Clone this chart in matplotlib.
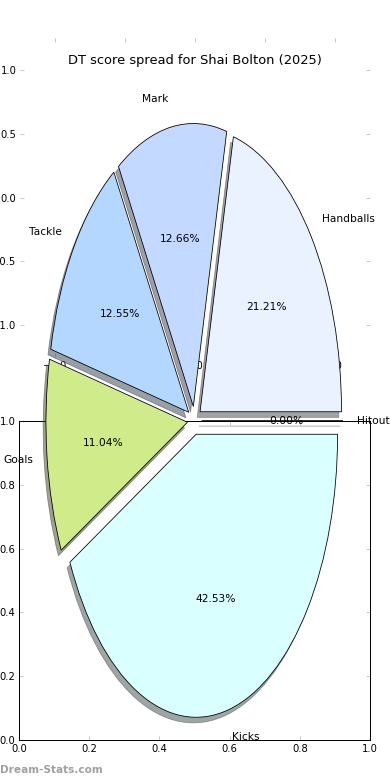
import matplotlib
matplotlib.use("Agg")
import matplotlib.pyplot as plt
import matplotlib.patches as mpatches
import matplotlib.transforms as mtransforms
import matplotlib.colors as mcolors
import numpy as np

# data (share of DT score, %)
labels = ['Hitout', 'Handballs', 'Mark', 'Tackle', 'Goals', 'Kicks']
shares = [0.0, 21.21, 12.66, 12.55, 11.04, 42.53]
explode = [0.05, 0.05, 0.05, 0.05, 0.05, 0.05]
colors = ['#e0e0e0', '#eaf1ff', '#c4d9ff', '#b3d7ff', '#d0eb8a', '#daffff']

ticks_top = [-1.0, -0.5, 0.0, 0.5, 1.0]
ticks_bot = [0.0, 0.2, 0.4, 0.6, 0.8, 1.0]

W, H = 390, 780
fig = plt.figure(figsize=(W / 72, H / 72), dpi=72)

tick_kw = dict(direction='in', length=4, color='#bbbbbb', labelcolor='black',
               labelsize=10, top=True, right=True)

# upper (frameless) axes
ax_top = fig.add_axes([20 / W, (H - 357) / H, 350 / W, 319 / H])
ax_top.set_xlim(-1.25, 1.25)
ax_top.set_ylim(-1.25, 1.25)
ax_top.set_xticks(ticks_top)
ax_top.set_yticks(ticks_top)
ax_top.set_frame_on(False)
ax_top.tick_params(**tick_kw)

# lower axes with frame
ax_bot = fig.add_axes([19 / W, 40 / H, 351 / W, 319 / H])
ax_bot.set_xlim(0, 1)
ax_bot.set_ylim(0, 1)
ax_bot.set_xticks(ticks_bot)
ax_bot.set_yticks(ticks_bot)
ax_bot.tick_params(**tick_kw)
for sp in ax_bot.spines.values():
    sp.set_linewidth(1.0)
    sp.set_color('black')

# pie, stretched (no equal aspect)
ax_pie = fig.add_axes([17.6 / W, 5.75 / H, 353.75 / W, 707.5 / H])
wedges, texts, autotexts = ax_pie.pie(
    shares, labels=labels, explode=explode, colors=colors,
    autopct='%1.2f%%', startangle=0,
    wedgeprops=dict(edgecolor='black', linewidth=0.8, zorder=2),
    textprops=dict(fontsize=10.6, color='black'))
ax_pie.set_aspect('auto')
ax_pie.set_xlim(-1.25, 1.25)
ax_pie.set_ylim(-1.25, 1.25)
ax_pie.patch.set_alpha(0)

# drop shadows, shifted down-left
shift = ax_pie.transData + mtransforms.ScaledTranslation(-2.8 / 72, -5.6 / 72, fig.dpi_scale_trans)
for w in wedges:
    rgb = np.array(mcolors.to_rgb(w.get_facecolor())) * 0.3
    sh = mpatches.Wedge(w.center, w.r, w.theta1, w.theta2, transform=shift,
                        facecolor=rgb, edgecolor=rgb, alpha=0.5, lw=0.8, zorder=1)
    ax_pie.add_patch(sh)

ax_pie.set_title('DT score spread for Shai Bolton (2025)', fontsize=13, pad=3)

fig.text(0.0, (H - 770) / H, 'Dream-Stats.com', ha='left', va='center',
         fontsize=10.5, fontweight='bold', color='#a0a0a0')

fig.savefig('out.png', dpi=72)
